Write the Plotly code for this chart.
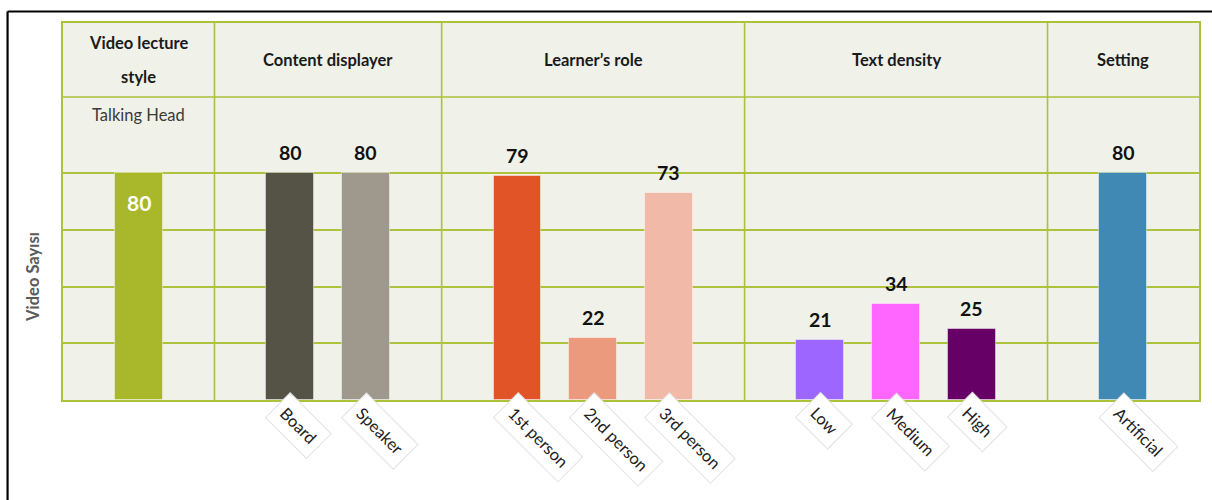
import plotly.graph_objects as go

# ---- data -------------------------------------------------------------
groups = [["Video lecture", "style"], ["Content displayer"], ["Learner’s role"],
          ["Text density"], ["Setting"]]
group_sizes = [1, 2, 3, 3, 1]
categories = ["Talking Head", "Board", "Speaker",
              "1st person", "2nd person", "3rd person",
              "Low", "Medium", "High", "Artificial"]
values = [80, 80, 80, 79, 22, 73, 21, 34, 25, 80]
bar_colors = ["#a8b82a", "#555246", "#9e998c",
              "#e05428", "#ec9a7e", "#f1b9a7",
              "#9d66ff", "#ff66ff", "#660066", "#3f89b4"]
y_title = "Video Sayısı"

# ---- layout constants -------------------------------------------------
GREEN = "#adc13a"
GRID = "#afc23e"
BG = "#f0f1e8"
FONT = "Lato"
Y_TOP = 132.86        # top edge of header band (data units)
Y_HEAD = 106.78       # divider between group titles and sub-row
HEAD_LINE = 12.0      # spacing between title lines (data units)

# each group takes (n + 1) slots; its bars sit at slots 1..n
xpos, starts, bounds = [], [], []
s = 0
for n in group_sizes:
    starts.append(s)
    xpos += [s + k for k in range(1, n + 1)]
    s += n + 1
    bounds.append(s)
x_max = s

fig = go.Figure()
fig.add_trace(go.Bar(
    x=xpos, y=values, width=0.63,
    marker=dict(color=bar_colors, line=dict(color="rgba(255,255,255,0.45)", width=1)),
    hoverinfo="skip",
))

shapes = []
# column separators
for b in bounds[:-1]:
    shapes.append(dict(type="line", xref="x", yref="y", x0=b, x1=b, y0=0, y1=Y_TOP,
                       line=dict(color=GREEN, width=1.6)))
# header row divider
shapes.append(dict(type="line", xref="x", yref="y", x0=0, x1=x_max, y0=Y_HEAD, y1=Y_HEAD,
                   line=dict(color=GREEN, width=1.6)))
# outer black frame (left and top edges)
shapes.append(dict(type="line", xref="paper", yref="paper",
                   x0=-0.0488, x1=-0.0488, y0=1.0305, y1=-0.30,
                   line=dict(color="black", width=2.2)))
shapes.append(dict(type="line", xref="paper", yref="paper",
                   x0=-0.0488, x1=1.02, y0=1.0305, y1=1.0305,
                   line=dict(color="black", width=2.2)))

annotations = []
# group titles (one annotation per line for wider line spacing)
mid = (Y_TOP + Y_HEAD) / 2
for lines, st, n in zip(groups, starts, group_sizes):
    k = len(lines)
    for j, line in enumerate(lines):
        annotations.append(dict(
            x=st + (n + 1) / 2, y=mid + (k - 1) / 2 * HEAD_LINE - j * HEAD_LINE,
            xref="x", yref="y",
            text=f"<b>{line}</b>", showarrow=False, align="center",
            font=dict(family=FONT, size=16.5, color="#1a1a1a"),
        ))

for i, (cat, v, xp) in enumerate(zip(categories, values, xpos)):
    if i == 0:
        # single-style group: category name in the sub-row, value inside bar
        annotations.append(dict(
            x=xp, y=Y_HEAD, xref="x", yref="y", yanchor="top", yshift=-6,
            text=cat, showarrow=False,
            font=dict(family=FONT, size=16.5, color="#3a3a3a"),
        ))
        annotations.append(dict(
            x=xp, y=v, xref="x", yref="y", yanchor="top", yshift=-15,
            text=f"<b>{v}</b>", showarrow=False,
            font=dict(family=FONT, size=21, color="white"),
        ))
        continue
    annotations.append(dict(
        x=xp, y=v, xref="x", yref="y", yanchor="bottom", yshift=7,
        text=f"<b>{v}</b>", showarrow=False,
        font=dict(family=FONT, size=19.5, color="#111111"),
    ))
    # rotated category label in a white tag below the axis
    annotations.append(dict(
        x=xp, y=0, xref="x", yref="paper", xanchor="left", yanchor="top",
        xshift=-25, yshift=8, textangle=45,
        text=cat, showarrow=False,
        bgcolor="white", bordercolor="#e2e2e2", borderwidth=1, borderpad=7,
        font=dict(family=FONT, size=16.5, color="#222222"),
    ))

# y-axis title
annotations.append(dict(
    x=-0.027, y=43.5, xref="paper", yref="y", xanchor="center", yanchor="middle",
    textangle=-90, text=f"<b>{y_title}</b>", showarrow=False,
    font=dict(family=FONT, size=16.5, color="#5a5a5a"),
))

fig.update_layout(
    width=1212, height=500,
    margin=dict(l=63, r=11, t=23, b=100),
    paper_bgcolor="white", plot_bgcolor=BG,
    showlegend=False, bargap=0,
    shapes=shapes, annotations=annotations,
    xaxis=dict(range=[0, x_max], showticklabels=False, ticks="", showgrid=False,
               zeroline=False, showline=True, mirror=True,
               linecolor=GREEN, linewidth=2),
    yaxis=dict(range=[0, Y_TOP], tickvals=[20, 40, 60, 80], showticklabels=False,
               ticks="", showgrid=True, gridcolor=GRID, gridwidth=1.6,
               zeroline=False, showline=True, mirror=True,
               linecolor=GREEN, linewidth=2),
)

fig.write_html("out.html")
